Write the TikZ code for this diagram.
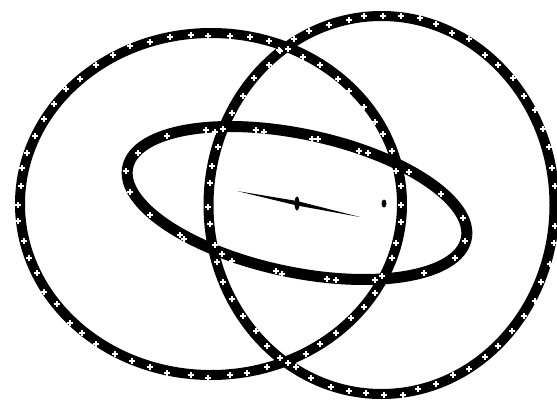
\documentclass[tikz,border=0pt]{standalone}
\usepackage{xcolor}

\newcommand{\whitecross}[2]{\draw[crossline] ({#1-2.6},{#2}) -- ({#1+2.6},{#2}) ({#1},{#2-2.6}) -- ({#1},{#2+2.6});}

\begin{document}
\begin{tikzpicture}[x=1pt, y=-1pt,
    ring/.style={draw=black, line width=10pt},
    tiltring/.style={draw=black, line width=11pt},
    crossline/.style={draw=white, line width=1.3pt},
    needle/.style={fill=black, draw=none}]

    \useasboundingbox (0,0) rectangle (557,405);
    \fill[white] (0,0) rectangle (557,405);

    % outer rings
    \draw [ring] (211,204) ellipse [x radius=191, y radius=171];
    \draw [ring] (381.5,205) ellipse [x radius=173, y radius=189];

    % tilted ring
    \draw [tiltring, rotate around={-12:(297,203)}] (297,203) ellipse [x radius=173, y radius=69];

    % needle and point
    \fill [needle] (237,191) -- (297,201) -- (360,217) -- (297,205.5) -- cycle;
    \fill [needle] (297,203.5) ellipse [x radius=2.5, y radius=7];
    \fill [needle] (384,203.5) ellipse [x radius=2.5, y radius=4];

    % crosses on the left ring
    \foreach \px/\py in {18/205,21/186,22/168,27/153,35/136,44/119,54/104,66/89,80/79,96/65,
        113/55,130/46,150/42,170/37,191/35,208/36,230/36,250/37,269/41,280/51,288/49,
        303/57,320/65,338/79,349/91,364/107,375/122,383/134,392/151,396/171,401/186,
        401/205,401/222,396/243,392/258,375/293,364/307,351/318,336/333,320/344,306/354,
        288/363,267/367,247/373,230/375,208/378,191/375,167/373,150/367,132/361,115/354,
        96/344,82/333,70/323,57/304,44/292,37/273,29/258,24/241,18/221} {
        \whitecross{\px}{\py}
    }

    % crosses on the right ring
    \foreach \px/\py in {294/39,309/31,329/25,349/20,364/16,383/16,401/16,420/18,436/24,452/33,
        469/39,485/55,498/65,513/78,524/96,535/110,543/129,549/147,552/168,555/186,
        555/226,554/243,550/264,541/282,535/301,524/316,512/331,498/346,485/357,469/369,
        453/375,436/384,418/389,403/395,384/395,366/393,349/391,331/387,311/378,296/367,
        280/358,267/346,256/331,243/316,232/299,223/282,217/262,215/245,210/224,208/207,
        210/183,212/166,218/147,223/129,232/113,243/96,254/78,269/65,279/50} {
        \whitecross{\px}{\py}
    }

    % crosses on the tilted ring
    \foreach \px/\py in {167/136,138/153,126/171,130/192,150/215,180/235,184/239,222/254,232/261,
        206/130,215/132,256/130,264/132,312/139,318/139,359/151,368/153,409/172,
        441/194,463/218,465/241,455/258,424/273,382/276,375/280,336/280,327/279,
        282/274,276/271} {
        \whitecross{\px}{\py}
    }
\end{tikzpicture}
\end{document}
